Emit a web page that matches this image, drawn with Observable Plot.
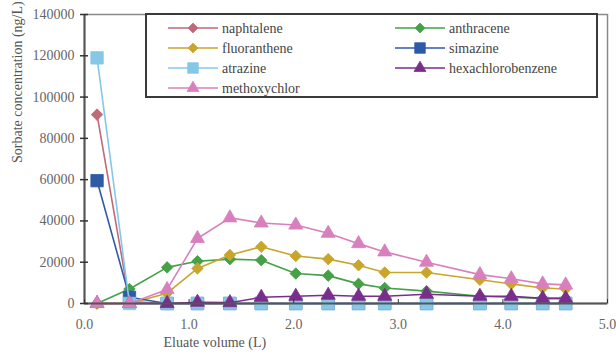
<!DOCTYPE html>
<html>
<head>
<meta charset="utf-8">
<script src="https://cdn.jsdelivr.net/npm/d3@7"></script>
<script src="https://cdn.jsdelivr.net/npm/@observablehq/plot@0.6"></script>
<style>
  body { margin: 0; background: #fff; }
  #chart svg { display: block; }
</style>
</head>
<body>
<div id="chart"></div>
<script>
// Eluate volume (L) at each sampling point
const volume = [0.12, 0.43, 0.79, 1.08, 1.39, 1.69, 2.02, 2.33, 2.62, 2.87, 3.27, 3.78, 4.08, 4.38, 4.60];

// Sorbate concentration (ng/L) per compound
const naphtalene        = [91500, 1000, 0, 0, 0, 0, 0, 0, 0, 0, 0, 0, 0, 0, 0];
const anthracene        = [0, 7000, 17500, 20500, 21500, 21000, 14500, 13500, 9500, 7500, 6000, 3500, 3000, 2500, 2500];
const fluoranthene      = [0, 0, 5000, 17000, 23500, 27500, 23000, 21500, 18500, 15000, 15000, 11500, 9500, 7500, 7000];
const simazine          = [59500, 3000, 0, 0, 0, 0, 0, 0, 0, 0, 0, 0, 0, 0, 0];
const atrazine          = [119000, 0, 0, 0, 0, 0, 0, 0, 0, 0, 0, 0, 0, 0, 0];
const hexachlorobenzene = [0, 0, 0, 600, 400, 3000, 3500, 4000, 3500, 3500, 4500, 3500, 3500, 2500, 2500];
const methoxychlor      = [0, 0, 6800, 31500, 41500, 39000, 38000, 34000, 29000, 25000, 20000, 14000, 12000, 9500, 9000];

const seriesNames   = ["naphtalene", "anthracene", "fluoranthene", "simazine", "atrazine", "hexachlorobenzene", "methoxychlor"];
const seriesValues  = [naphtalene, anthracene, fluoranthene, simazine, atrazine, hexachlorobenzene, methoxychlor];
const seriesColors  = ["#bf6a78", "#45a048", "#c9a52c", "#2f5aa8", "#84c8e6", "#7b2d8c", "#d880bd"];
const seriesSymbols = ["diamond2", "diamond2", "diamond2", "square", "square", "triangle", "triangle"];
const symbolRadius  = {diamond2: 5.2, square: 7.0, triangle: 5.2};

const yTicks = [0, 20000, 40000, 60000, 80000, 100000, 120000, 140000];
const xTicks = [0, 1, 2, 3, 4, 5];
const yLabel = "Sorbate concentration (ng/L)";
const xLabel = "Eluate volume (L)";

const font = "'Liberation Serif', 'Times New Roman', serif";

// One line + markers per compound, drawn in series order
const seriesMarks = seriesNames.flatMap((name, i) => {
  const rows = volume.map((v, j) => ({volume: v, conc: seriesValues[i][j]}));
  return [
    Plot.line(rows, {x: "volume", y: "conc", stroke: seriesColors[i], strokeWidth: 1.6}),
    Plot.dot(rows, {
      x: "volume", y: "conc",
      symbol: () => seriesSymbols[i],
      r: symbolRadius[seriesSymbols[i]],
      fill: seriesColors[i], stroke: seriesColors[i], strokeWidth: 0.8
    })
  ];
});

const chart = Plot.plot({
  width: 616,
  height: 354,
  marginLeft: 84,
  marginRight: 9,
  marginTop: 14,
  marginBottom: 51,
  style: {fontFamily: font, fontSize: "14px", background: "#fff", color: "#555"},
  x: {domain: [0, 5]},
  y: {domain: [0, 140000]},
  marks: [
    Plot.frame({stroke: "#8a8a8a", strokeWidth: 1.5}),
    ...seriesMarks,
    Plot.ruleX([0], {stroke: "#555", strokeWidth: 2}),
    Plot.ruleY([0], {stroke: "#555", strokeWidth: 2}),
    Plot.axisY(yTicks, {
      tickSize: 8, dx: 4, tickPadding: 6, label: null,
      tickFormat: d => String(d), stroke: "#333", fill: "#666", strokeWidth: 1.5
    }),
    Plot.axisX(xTicks, {
      tickSize: 4, dy: -4, tickPadding: 16, label: null,
      tickFormat: d3.format(".1f"), stroke: "#333", fill: "#666"
    }),
    Plot.text([yLabel], {
      frameAnchor: "left", rotate: -90, dx: -67, dy: 4,
      fill: "#555", fontSize: 14
    }),
    Plot.text([xLabel], {
      frameAnchor: "bottom-left", textAnchor: "start", dx: 79, dy: 43,
      fill: "#555", fontSize: 14
    })
  ]
});

// Legend box inside the plot area, two columns filled row by row
const svg = d3.select(chart);
const legend = svg.append("g")
  .attr("font-family", font).attr("font-size", 14).attr("text-anchor", "start");
legend.append("rect")
  .attr("x", 146).attr("y", 14).attr("width", 451).attr("height", 83)
  .attr("fill", "#fff").attr("stroke", "#3a3a3a").attr("stroke-width", 2);

seriesNames.forEach((name, i) => {
  const col = i % 2, row = Math.floor(i / 2);
  const x0 = col === 0 ? 168 : 395;
  const y0 = 28 + row * 20;
  const g = legend.append("g").attr("transform", `translate(${x0},${y0})`);
  g.append("line").attr("x1", 0).attr("x2", 50).attr("y1", 0).attr("y2", 0)
    .attr("stroke", seriesColors[i]).attr("stroke-width", 1.6);
  const sym = {diamond2: d3.symbolDiamond2, square: d3.symbolSquare, triangle: d3.symbolTriangle}[seriesSymbols[i]];
  const rr = symbolRadius[seriesSymbols[i]] * 0.85;
  g.append("path")
    .attr("transform", "translate(25,0)")
    .attr("d", d3.symbol(sym, Math.PI * rr * rr)())
    .attr("fill", seriesColors[i]).attr("stroke", seriesColors[i]).attr("stroke-width", 0.8);
  g.append("text").attr("x", 54).attr("y", 0).attr("dy", "0.35em")
    .attr("text-anchor", "start").attr("fill", "#444").text(name);
});

document.getElementById("chart").append(chart);
</script>
</body>
</html>
